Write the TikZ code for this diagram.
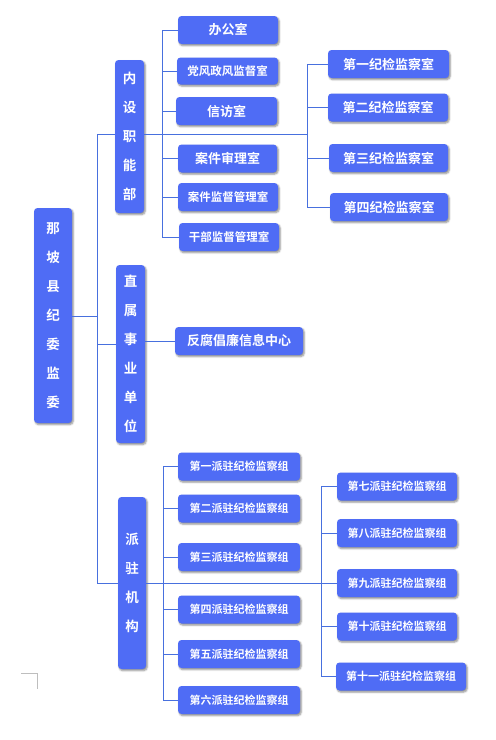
\documentclass[tikz,border=0pt]{standalone}
\usepackage{fontspec}
\newfontfamily\cjk{Noto Sans CJK SC}[BoldFont={Noto Sans CJK SC Bold}]
\usetikzlibrary{shadows.blur}
\definecolor{boxblue}{RGB}{79,108,245}
\definecolor{lineblue}{RGB}{72,112,222}
\definecolor{markgrey}{RGB}{190,190,190}
\tikzset{
  box/.style={fill=boxblue, rounded corners=3.5pt, text=white, inner sep=0pt,
    font=\cjk\bfseries\fontsize{13}{15}\selectfont,
    blur shadow={shadow xshift=1.2pt, shadow yshift=-1.6pt, shadow blur steps=5, shadow opacity=45}},
  hbox/.style={box, minimum height=28pt},
  vbox/.style={box, align=center, font=\cjk\bfseries\fontsize{13.5}{29}\selectfont},
  small/.style={font=\cjk\bfseries\fontsize{11.5}{13}\selectfont},
  tiny/.style={font=\cjk\bfseries\fontsize{11}{13}\selectfont},
  conn/.style={draw=lineblue, line width=1pt},
}
\begin{document}
\begin{tikzpicture}[x=1pt,y=-1pt]
\useasboundingbox (0,0) rectangle (496,740);
% level 1
\node[vbox, minimum width=38pt, minimum height=215pt] (root) at (53,315.5) {那\\坡\\县\\纪\\委\\监\\委};
% level 2
\node[vbox, minimum width=29pt, minimum height=153pt] (nsz) at (129.5,136.5) {内\\设\\职\\能\\部};
\node[vbox, minimum width=29pt, minimum height=178pt] (zs) at (130.5,354) {直\\属\\事\\业\\单\\位};
\node[vbox, minimum width=28pt, minimum height=172pt] (pz) at (132,583) {派\\驻\\机\\构};
% under nsz
\node[hbox, minimum width=100pt] (a1) at (228,30) {办公室};
\node[hbox, small, minimum width=101pt, minimum height=27pt] (a2) at (227.5,71) {党风政风监督室};
\node[hbox, minimum width=101pt] (a3) at (226.5,111) {信访室};
\node[hbox, minimum width=99pt] (a4) at (227.5,158.5) {案件审理室};
\node[hbox, small, minimum width=100pt] (a5) at (228,197) {案件监督管理室};
\node[hbox, small, minimum width=100pt] (a6) at (229,237) {干部监督管理室};
% jijian rooms
\node[hbox, minimum width=121pt] (b1) at (388.5,64) {第一纪检监察室};
\node[hbox, minimum width=120pt] (b2) at (388,107.5) {第二纪检监察室};
\node[hbox, minimum width=119pt] (b3) at (388.5,158) {第三纪检监察室};
\node[hbox, minimum width=118pt] (b4) at (389,207) {第四纪检监察室};
% zs child
\node[hbox, minimum width=128pt] (c1) at (239,341) {反腐倡廉信息中心};
% pz children left
\node[hbox, tiny, minimum width=122pt] (d1) at (239,466.5) {第一派驻纪检监察组};
\node[hbox, tiny, minimum width=122pt] (d2) at (239,508.5) {第二派驻纪检监察组};
\node[hbox, tiny, minimum width=122pt] (d3) at (239,557) {第三派驻纪检监察组};
\node[hbox, tiny, minimum width=122pt] (d4) at (239,609.5) {第四派驻纪检监察组};
\node[hbox, tiny, minimum width=122pt] (d5) at (239,654) {第五派驻纪检监察组};
\node[hbox, tiny, minimum width=122pt] (d6) at (239,700) {第六派驻纪检监察组};
% pz children right
\node[hbox, tiny, minimum width=120pt] (e1) at (397,486.5) {第七派驻纪检监察组};
\node[hbox, tiny, minimum width=120pt] (e2) at (397,533) {第八派驻纪检监察组};
\node[hbox, tiny, minimum width=120pt] (e3) at (397,583) {第九派驻纪检监察组};
\node[hbox, tiny, minimum width=120pt] (e4) at (397,626.5) {第十派驻纪检监察组};
\node[hbox, tiny, minimum width=130pt] (e5) at (401,676.5) {第十一派驻纪检监察组};
% bus coordinates
\coordinate (m1) at (97,134);
\coordinate (m2) at (97,583);
\coordinate (j1) at (162,30);
\coordinate (j2) at (162,237);
\coordinate (k1) at (307,64);
\coordinate (k2) at (307,207);
\coordinate (k0) at (307,134);
\coordinate (zsy) at (97,344);
\coordinate (zsr) at (145,341);
\coordinate (p1) at (163,466.5);
\coordinate (p2) at (163,700);
\coordinate (q1) at (321,486.5);
\coordinate (q2) at (321,676.5);
\coordinate (q0) at (321,583);
% connectors
\draw[conn] (root.east |- 0,316) -- (97,316);
\draw[conn] (m1) -- (m2);
\draw[conn] (m1) -- (nsz.west |- m1);
\draw[conn] (nsz.east |- k0) -- (k0);
\draw[conn] (zsy) -- (zs.west |- zsy);
\draw[conn] (zs.east |- zsr) -- (c1.west |- zsr);
\draw[conn] (m2) -- (pz.west |- m2);
\draw[conn] (pz.east |- q0) -- (q0);
\draw[conn] (j1) -- (j2);
\foreach \n in {a1,a2,a3,a4,a5,a6} \draw[conn] (\n.west -| j1) -- (\n.west);
\draw[conn] (k1) -- (k2);
\foreach \n in {b1,b2,b3,b4} \draw[conn] (\n.west -| k1) -- (\n.west);
\draw[conn] (p1) -- (p2);
\foreach \n in {d1,d2,d3,d4,d5,d6} \draw[conn] (\n.west -| p1) -- (\n.west);
\draw[conn] (q1) -- (q2);
\foreach \n in {e1,e2,e3,e4,e5} \draw[conn] (\n.west -| q1) -- (\n.west);
% crop mark
\draw[markgrey, line width=0.8pt] (21,673) -- (37,673) -- (37,689);
\end{tikzpicture}
\end{document}
